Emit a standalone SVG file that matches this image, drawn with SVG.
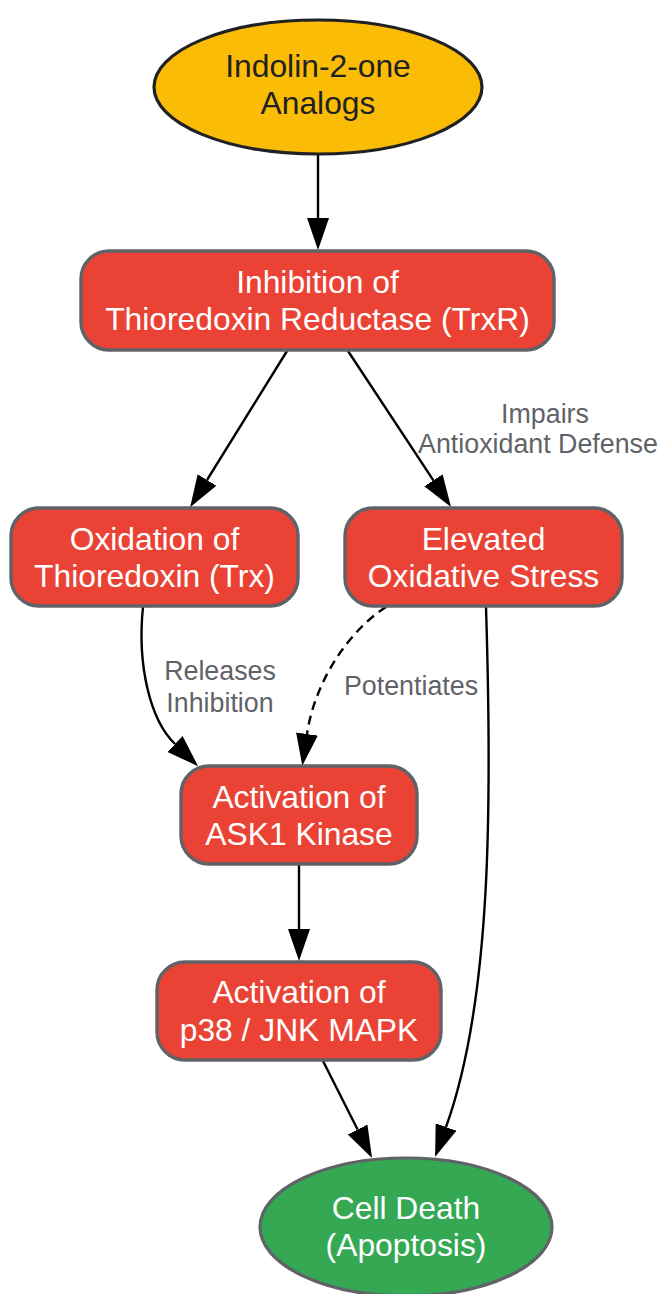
<svg xmlns="http://www.w3.org/2000/svg" width="660" height="1294" viewBox="0 0 660 1294">
<style>
.node-text{font-family:"Liberation Sans",Arial,sans-serif;font-size:31.8px;text-anchor:middle;fill:#ffffff}
.dark{fill:#202124}
.box{fill:#EA4335;stroke:#5F6368;stroke-width:3.4}
.edge{fill:none;stroke:#000000;stroke-width:2.4}
.dashed{stroke-dasharray:9,6}
.lbl{font-family:"Liberation Sans",Arial,sans-serif;font-size:26.8px;text-anchor:middle;fill:#5F6368}
</style>
<defs>
<marker id="arrow" viewBox="0 0 32 22" markerWidth="32" markerHeight="22" markerUnits="userSpaceOnUse" refX="0" refY="11" orient="auto">
<path d="M0,0 L32,11 L0,22 z" fill="#000000"/>
</marker>
</defs>
<rect width="660" height="1294" fill="#ffffff"/>
<g id="connectors">
<path class="edge" d="M318,154 L318,218" marker-end="url(#arrow)"/>
<path class="edge" d="M287,351 L207,480" marker-end="url(#arrow)"/>
<path class="edge" d="M348,351 L433.4,480.3" marker-end="url(#arrow)"/>
<path class="edge" d="M143,607 C137,665 150,720 175,744" marker-end="url(#arrow)"/>
<path class="edge dashed" d="M386,607 C350,630 315,680 307,734" marker-end="url(#arrow)"/>
<path class="edge" d="M299,865 L299,929" marker-end="url(#arrow)"/>
<path class="edge" d="M323,1061 L357.6,1129.5" marker-end="url(#arrow)"/>
<path class="edge" d="M486,607 C492,800 492,1000 446,1127" marker-end="url(#arrow)"/>
<text class="lbl" x="545" y="423">Impairs</text>
<text class="lbl" x="538" y="453">Antioxidant Defense</text>
<text class="lbl" x="220" y="680">Releases</text>
<text class="lbl" x="220" y="712">Inhibition</text>
<text class="lbl" x="411" y="695">Potentiates</text>
</g>
<g id="indolinone">
<ellipse cx="318" cy="87" rx="164" ry="67" fill="#FBBC05" stroke="#202124" stroke-width="3.2"/>
<text class="node-text dark" x="318" y="77">Indolin-2-one</text>
<text class="node-text dark" x="318" y="114">Analogs</text>
</g>
<g id="trxr">
<rect class="box" x="81" y="251" width="473" height="99" rx="28"/>
<text class="node-text" x="317.5" y="293">Inhibition of</text>
<text class="node-text" x="317.5" y="330">Thioredoxin Reductase (TrxR)</text>
</g>
<g id="trx">
<rect class="box" x="11" y="508" width="287" height="98" rx="28"/>
<text class="node-text" x="154.5" y="550">Oxidation of</text>
<text class="node-text" x="154.5" y="587">Thioredoxin (Trx)</text>
</g>
<g id="stress">
<rect class="box" x="345" y="508" width="277" height="98" rx="28"/>
<text class="node-text" x="483.5" y="550">Elevated</text>
<text class="node-text" x="483.5" y="587">Oxidative Stress</text>
</g>
<g id="ask1">
<rect class="box" x="181" y="766" width="236" height="98" rx="28"/>
<text class="node-text" x="299" y="808">Activation of</text>
<text class="node-text" x="299" y="845">ASK1 Kinase</text>
</g>
<g id="mapk">
<rect class="box" x="157" y="962" width="284" height="98" rx="28"/>
<text class="node-text" x="299" y="1003">Activation of</text>
<text class="node-text" x="299" y="1041">p38 / JNK MAPK</text>
</g>
<g id="apoptosis">
<ellipse cx="406" cy="1227" rx="146" ry="69" fill="#34A853" stroke="#5F6368" stroke-width="3.2"/>
<text class="node-text" x="406" y="1219">Cell Death</text>
<text class="node-text" x="406" y="1256">(Apoptosis)</text>
</g>
</svg>
